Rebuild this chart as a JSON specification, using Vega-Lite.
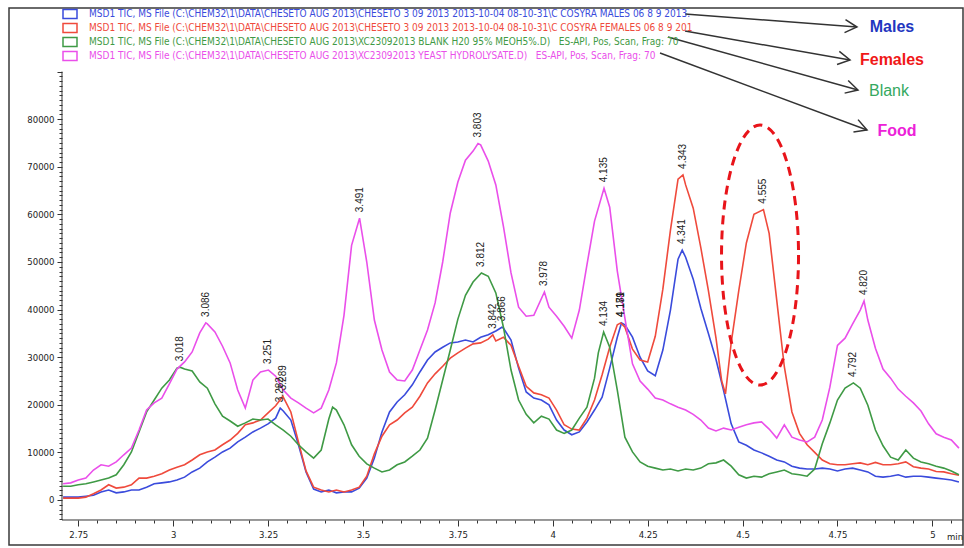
{
 "$schema": "https://vega.github.io/schema/vega-lite/v6.json",
 "width": 954, "height": 537,
 "autosize": {"type": "none"},
 "padding": {"left": 9, "top": 8, "right": 1, "bottom": 3},
 "background": "white",
 "config": {"view": {"stroke": "#3a3a3a", "strokeWidth": 1.5}, "font": "Liberation Sans"},
 "encoding": {
  "x": {"field": "t", "type": "quantitative",
   "scale": {"domain": [2.5675, 5.0807], "nice": false, "zero": false},
   "axis": {"orient": "bottom", "offset": -25, "domain": false, "grid": false, "title": null,
    "values": [2.75,2.8,2.85,2.9,2.95,3,3.05,3.1,3.15,3.2,3.25,3.3,3.35,3.4,3.45,3.5,3.55,3.6,3.65,3.7,3.75,3.8,3.85,3.9,3.95,4,4.05,4.1,4.15,4.2,4.25,4.3,4.35,4.4,4.45,4.5,4.55,4.6,4.65,4.7,4.75,4.8,4.85,4.9,4.95,5,5.05],
    "tickSize": {"condition": {"test": "abs(datum.value*4-round(datum.value*4))<0.001", "value": 6}, "value": 3},
    "tickColor": "#333", "tickWidth": 1,
    "labelExpr": "abs(datum.value*4-round(datum.value*4))<0.001 ? format(datum.value,'~g') : ''",
    "labelOverlap": false, "labelFlush": false, "labelPadding": 3,
    "labelFont": "DejaVu Sans Condensed, sans-serif", "labelFontSize": 9.5, "labelColor": "#222"}},
  "y": {"field": "v", "type": "quantitative",
   "scale": {"domain": [-9454, 103360], "nice": false, "zero": false},
   "axis": {"orient": "left", "offset": -53, "domain": false, "grid": false, "title": null,
    "values": [-4000,-3000,-2000,-1000,0,1000,2000,3000,4000,5000,6000,7000,8000,9000,10000,11000,12000,13000,14000,15000,16000,17000,18000,19000,20000,21000,22000,23000,24000,25000,26000,27000,28000,29000,30000,31000,32000,33000,34000,35000,36000,37000,38000,39000,40000,41000,42000,43000,44000,45000,46000,47000,48000,49000,50000,51000,52000,53000,54000,55000,56000,57000,58000,59000,60000,61000,62000,63000,64000,65000,66000,67000,68000,69000,70000,71000,72000,73000,74000,75000,76000,77000,78000,79000,80000,81000,82000,83000,84000,85000,86000,87000,88000,89000,90000],
    "tickSize": {"condition": {"test": "datum.value % 10000 === 0", "value": 5}, "value": 3},
    "tickColor": "#333", "tickWidth": 1,
    "labelExpr": "(datum.value % 10000 === 0 && datum.value >= 0 && datum.value <= 80000) ? format(datum.value,'d') : ''",
    "labelOverlap": false, "labelPadding": 3,
    "labelFont": "DejaVu Sans Condensed, sans-serif", "labelFontSize": 9.5, "labelColor": "#222"}}
 },
 "layer": [
  {
   "data": {"values": [
{"s":"M","t":2.71,"v":600},{"s":"M","t":2.73,"v":600},{"s":"M","t":2.75,"v":600},{"s":"M","t":2.77,"v":800},{"s":"M","t":2.79,"v":1000},{"s":"M","t":2.81,"v":1700},{"s":"M","t":2.83,"v":2100},{"s":"M","t":2.85,"v":1500},{"s":"M","t":2.87,"v":1700},{"s":"M","t":2.89,"v":2100},{"s":"M","t":2.91,"v":2100},{"s":"M","t":2.93,"v":2700},{"s":"M","t":2.95,"v":3400},{"s":"M","t":2.97,"v":3600},{"s":"M","t":2.99,"v":3800},{"s":"M","t":3.01,"v":4200},{"s":"M","t":3.03,"v":4800},{"s":"M","t":3.05,"v":5900},{"s":"M","t":3.07,"v":6700},{"s":"M","t":3.09,"v":8000},{"s":"M","t":3.11,"v":9000},{"s":"M","t":3.13,"v":10100},{"s":"M","t":3.15,"v":10900},{"s":"M","t":3.17,"v":12200},{"s":"M","t":3.19,"v":13200},{"s":"M","t":3.21,"v":14300},{"s":"M","t":3.23,"v":15100},{"s":"M","t":3.25,"v":16000},{"s":"M","t":3.27,"v":17200},{"s":"M","t":3.282,"v":19300},{"s":"M","t":3.29,"v":18700},{"s":"M","t":3.31,"v":16800},{"s":"M","t":3.33,"v":11600},{"s":"M","t":3.35,"v":5900},{"s":"M","t":3.37,"v":2300},{"s":"M","t":3.39,"v":1700},{"s":"M","t":3.41,"v":2100},{"s":"M","t":3.43,"v":1500},{"s":"M","t":3.45,"v":1700},{"s":"M","t":3.47,"v":1700},{"s":"M","t":3.49,"v":2500},{"s":"M","t":3.51,"v":4600},{"s":"M","t":3.53,"v":8800},{"s":"M","t":3.55,"v":14300},{"s":"M","t":3.57,"v":18500},{"s":"M","t":3.59,"v":20600},{"s":"M","t":3.61,"v":22100},{"s":"M","t":3.63,"v":24200},{"s":"M","t":3.65,"v":26900},{"s":"M","t":3.67,"v":29400},{"s":"M","t":3.69,"v":31100},{"s":"M","t":3.71,"v":32100},{"s":"M","t":3.73,"v":33000},{"s":"M","t":3.75,"v":33200},{"s":"M","t":3.77,"v":33600},{"s":"M","t":3.79,"v":33200},{"s":"M","t":3.81,"v":34200},{"s":"M","t":3.83,"v":34700},{"s":"M","t":3.85,"v":35500},{"s":"M","t":3.866,"v":36300},{"s":"M","t":3.87,"v":36100},{"s":"M","t":3.89,"v":33600},{"s":"M","t":3.91,"v":27700},{"s":"M","t":3.93,"v":22700},{"s":"M","t":3.95,"v":21400},{"s":"M","t":3.97,"v":21000},{"s":"M","t":3.99,"v":20000},{"s":"M","t":4.01,"v":16800},{"s":"M","t":4.03,"v":14700},{"s":"M","t":4.05,"v":13700},{"s":"M","t":4.07,"v":14300},{"s":"M","t":4.09,"v":16400},{"s":"M","t":4.11,"v":18900},{"s":"M","t":4.13,"v":21600},{"s":"M","t":4.15,"v":27700},{"s":"M","t":4.17,"v":34200},{"s":"M","t":4.181,"v":37200},{"s":"M","t":4.19,"v":36800},{"s":"M","t":4.21,"v":34200},{"s":"M","t":4.23,"v":30000},{"s":"M","t":4.25,"v":27100},{"s":"M","t":4.27,"v":26100},{"s":"M","t":4.29,"v":31500},{"s":"M","t":4.31,"v":39900},{"s":"M","t":4.33,"v":50600},{"s":"M","t":4.341,"v":52500},{"s":"M","t":4.35,"v":51000},{"s":"M","t":4.37,"v":46400},{"s":"M","t":4.39,"v":40300},{"s":"M","t":4.41,"v":35000},{"s":"M","t":4.43,"v":29500},{"s":"M","t":4.45,"v":23000},{"s":"M","t":4.47,"v":16000},{"s":"M","t":4.49,"v":12200},{"s":"M","t":4.51,"v":11500},{"s":"M","t":4.53,"v":10500},{"s":"M","t":4.55,"v":9900},{"s":"M","t":4.57,"v":9200},{"s":"M","t":4.59,"v":8400},{"s":"M","t":4.61,"v":8000},{"s":"M","t":4.63,"v":7100},{"s":"M","t":4.65,"v":6700},{"s":"M","t":4.67,"v":6500},{"s":"M","t":4.69,"v":6500},{"s":"M","t":4.71,"v":6700},{"s":"M","t":4.73,"v":6500},{"s":"M","t":4.75,"v":6100},{"s":"M","t":4.77,"v":6500},{"s":"M","t":4.79,"v":6700},{"s":"M","t":4.81,"v":6300},{"s":"M","t":4.83,"v":5900},{"s":"M","t":4.85,"v":5000},{"s":"M","t":4.87,"v":4800},{"s":"M","t":4.89,"v":5000},{"s":"M","t":4.91,"v":5300},{"s":"M","t":4.93,"v":4800},{"s":"M","t":4.95,"v":5000},{"s":"M","t":4.97,"v":5000},{"s":"M","t":4.99,"v":4800},{"s":"M","t":5.01,"v":4600},{"s":"M","t":5.03,"v":4400},{"s":"M","t":5.05,"v":4200},{"s":"M","t":5.07,"v":3800},
{"s":"F","t":2.71,"v":400},{"s":"F","t":2.73,"v":400},{"s":"F","t":2.75,"v":400},{"s":"F","t":2.77,"v":600},{"s":"F","t":2.79,"v":1300},{"s":"F","t":2.81,"v":2100},{"s":"F","t":2.83,"v":3200},{"s":"F","t":2.85,"v":2500},{"s":"F","t":2.87,"v":2700},{"s":"F","t":2.89,"v":3200},{"s":"F","t":2.91,"v":4600},{"s":"F","t":2.93,"v":4600},{"s":"F","t":2.95,"v":5000},{"s":"F","t":2.97,"v":5500},{"s":"F","t":2.99,"v":6300},{"s":"F","t":3.01,"v":6900},{"s":"F","t":3.03,"v":7400},{"s":"F","t":3.05,"v":8400},{"s":"F","t":3.07,"v":9500},{"s":"F","t":3.09,"v":10100},{"s":"F","t":3.11,"v":10500},{"s":"F","t":3.13,"v":11600},{"s":"F","t":3.15,"v":12600},{"s":"F","t":3.17,"v":14000},{"s":"F","t":3.19,"v":15800},{"s":"F","t":3.21,"v":16200},{"s":"F","t":3.23,"v":16800},{"s":"F","t":3.25,"v":18300},{"s":"F","t":3.27,"v":19800},{"s":"F","t":3.289,"v":21800},{"s":"F","t":3.29,"v":21600},{"s":"F","t":3.31,"v":18500},{"s":"F","t":3.33,"v":12200},{"s":"F","t":3.35,"v":6100},{"s":"F","t":3.37,"v":2700},{"s":"F","t":3.39,"v":2100},{"s":"F","t":3.41,"v":1700},{"s":"F","t":3.43,"v":2100},{"s":"F","t":3.45,"v":1700},{"s":"F","t":3.47,"v":2100},{"s":"F","t":3.49,"v":2700},{"s":"F","t":3.51,"v":5000},{"s":"F","t":3.53,"v":9700},{"s":"F","t":3.55,"v":13400},{"s":"F","t":3.57,"v":15800},{"s":"F","t":3.59,"v":16800},{"s":"F","t":3.61,"v":18300},{"s":"F","t":3.63,"v":19500},{"s":"F","t":3.65,"v":21800},{"s":"F","t":3.67,"v":24600},{"s":"F","t":3.69,"v":26500},{"s":"F","t":3.71,"v":28100},{"s":"F","t":3.73,"v":29800},{"s":"F","t":3.75,"v":30900},{"s":"F","t":3.77,"v":31900},{"s":"F","t":3.79,"v":32800},{"s":"F","t":3.81,"v":33000},{"s":"F","t":3.83,"v":33800},{"s":"F","t":3.842,"v":34700},{"s":"F","t":3.85,"v":33400},{"s":"F","t":3.87,"v":34200},{"s":"F","t":3.89,"v":32500},{"s":"F","t":3.91,"v":28100},{"s":"F","t":3.93,"v":23900},{"s":"F","t":3.95,"v":22500},{"s":"F","t":3.97,"v":22100},{"s":"F","t":3.99,"v":21400},{"s":"F","t":4.01,"v":18900},{"s":"F","t":4.03,"v":15800},{"s":"F","t":4.05,"v":14900},{"s":"F","t":4.07,"v":14700},{"s":"F","t":4.09,"v":17200},{"s":"F","t":4.11,"v":21000},{"s":"F","t":4.13,"v":26300},{"s":"F","t":4.15,"v":32100},{"s":"F","t":4.17,"v":36800},{"s":"F","t":4.179,"v":37200},{"s":"F","t":4.19,"v":36300},{"s":"F","t":4.21,"v":31700},{"s":"F","t":4.23,"v":29400},{"s":"F","t":4.25,"v":29000},{"s":"F","t":4.27,"v":34400},{"s":"F","t":4.29,"v":44300},{"s":"F","t":4.31,"v":56700},{"s":"F","t":4.33,"v":67400},{"s":"F","t":4.343,"v":68300},{"s":"F","t":4.35,"v":66200},{"s":"F","t":4.37,"v":61300},{"s":"F","t":4.39,"v":53000},{"s":"F","t":4.41,"v":44000},{"s":"F","t":4.43,"v":34000},{"s":"F","t":4.445,"v":25000},{"s":"F","t":4.455,"v":22300},{"s":"F","t":4.47,"v":33000},{"s":"F","t":4.49,"v":44000},{"s":"F","t":4.51,"v":54000},{"s":"F","t":4.53,"v":60000},{"s":"F","t":4.555,"v":61000},{"s":"F","t":4.57,"v":56000},{"s":"F","t":4.59,"v":42000},{"s":"F","t":4.61,"v":28000},{"s":"F","t":4.63,"v":18500},{"s":"F","t":4.65,"v":14000},{"s":"F","t":4.67,"v":11600},{"s":"F","t":4.69,"v":10000},{"s":"F","t":4.71,"v":8400},{"s":"F","t":4.73,"v":7600},{"s":"F","t":4.75,"v":7400},{"s":"F","t":4.77,"v":7400},{"s":"F","t":4.79,"v":7600},{"s":"F","t":4.81,"v":7800},{"s":"F","t":4.83,"v":7400},{"s":"F","t":4.85,"v":7900},{"s":"F","t":4.87,"v":7400},{"s":"F","t":4.89,"v":7400},{"s":"F","t":4.91,"v":7600},{"s":"F","t":4.93,"v":8000},{"s":"F","t":4.95,"v":7000},{"s":"F","t":4.97,"v":6700},{"s":"F","t":4.99,"v":6500},{"s":"F","t":5.01,"v":6000},{"s":"F","t":5.03,"v":5900},{"s":"F","t":5.05,"v":5500},{"s":"F","t":5.07,"v":5200},
{"s":"B","t":2.71,"v":2900},{"s":"B","t":2.73,"v":2900},{"s":"B","t":2.75,"v":3200},{"s":"B","t":2.77,"v":3400},{"s":"B","t":2.79,"v":3800},{"s":"B","t":2.81,"v":4200},{"s":"B","t":2.83,"v":4600},{"s":"B","t":2.85,"v":5300},{"s":"B","t":2.87,"v":7400},{"s":"B","t":2.89,"v":10100},{"s":"B","t":2.91,"v":14300},{"s":"B","t":2.93,"v":18500},{"s":"B","t":2.95,"v":21000},{"s":"B","t":2.97,"v":23500},{"s":"B","t":2.99,"v":25200},{"s":"B","t":3.01,"v":27700},{"s":"B","t":3.018,"v":27900},{"s":"B","t":3.03,"v":27500},{"s":"B","t":3.05,"v":27100},{"s":"B","t":3.07,"v":24800},{"s":"B","t":3.09,"v":23500},{"s":"B","t":3.11,"v":20200},{"s":"B","t":3.13,"v":17600},{"s":"B","t":3.15,"v":16600},{"s":"B","t":3.17,"v":15500},{"s":"B","t":3.19,"v":16200},{"s":"B","t":3.21,"v":17000},{"s":"B","t":3.23,"v":16800},{"s":"B","t":3.25,"v":17000},{"s":"B","t":3.27,"v":15800},{"s":"B","t":3.29,"v":14700},{"s":"B","t":3.31,"v":13400},{"s":"B","t":3.33,"v":11600},{"s":"B","t":3.35,"v":10100},{"s":"B","t":3.37,"v":8800},{"s":"B","t":3.39,"v":10500},{"s":"B","t":3.41,"v":17000},{"s":"B","t":3.42,"v":19500},{"s":"B","t":3.43,"v":18900},{"s":"B","t":3.45,"v":15800},{"s":"B","t":3.47,"v":11600},{"s":"B","t":3.49,"v":9200},{"s":"B","t":3.51,"v":7600},{"s":"B","t":3.53,"v":6700},{"s":"B","t":3.55,"v":5900},{"s":"B","t":3.57,"v":6300},{"s":"B","t":3.59,"v":7400},{"s":"B","t":3.61,"v":8000},{"s":"B","t":3.63,"v":9200},{"s":"B","t":3.65,"v":10500},{"s":"B","t":3.67,"v":13000},{"s":"B","t":3.69,"v":18900},{"s":"B","t":3.71,"v":25200},{"s":"B","t":3.73,"v":31500},{"s":"B","t":3.75,"v":38000},{"s":"B","t":3.77,"v":43000},{"s":"B","t":3.79,"v":45800},{"s":"B","t":3.812,"v":47700},{"s":"B","t":3.83,"v":47000},{"s":"B","t":3.85,"v":43500},{"s":"B","t":3.87,"v":36300},{"s":"B","t":3.89,"v":27300},{"s":"B","t":3.91,"v":21000},{"s":"B","t":3.93,"v":18000},{"s":"B","t":3.95,"v":16200},{"s":"B","t":3.97,"v":17600},{"s":"B","t":3.99,"v":17000},{"s":"B","t":4.01,"v":14700},{"s":"B","t":4.03,"v":14000},{"s":"B","t":4.05,"v":14700},{"s":"B","t":4.07,"v":17200},{"s":"B","t":4.09,"v":19500},{"s":"B","t":4.11,"v":25600},{"s":"B","t":4.12,"v":30900},{"s":"B","t":4.134,"v":35300},{"s":"B","t":4.15,"v":32100},{"s":"B","t":4.17,"v":23100},{"s":"B","t":4.19,"v":13200},{"s":"B","t":4.21,"v":10100},{"s":"B","t":4.23,"v":8000},{"s":"B","t":4.25,"v":7100},{"s":"B","t":4.27,"v":6700},{"s":"B","t":4.29,"v":6300},{"s":"B","t":4.31,"v":6500},{"s":"B","t":4.33,"v":6100},{"s":"B","t":4.35,"v":6500},{"s":"B","t":4.37,"v":6300},{"s":"B","t":4.39,"v":6700},{"s":"B","t":4.41,"v":7600},{"s":"B","t":4.43,"v":7800},{"s":"B","t":4.45,"v":8400},{"s":"B","t":4.47,"v":7100},{"s":"B","t":4.49,"v":5300},{"s":"B","t":4.51,"v":4600},{"s":"B","t":4.53,"v":5000},{"s":"B","t":4.55,"v":4800},{"s":"B","t":4.57,"v":5500},{"s":"B","t":4.59,"v":5900},{"s":"B","t":4.61,"v":6300},{"s":"B","t":4.63,"v":5500},{"s":"B","t":4.65,"v":5300},{"s":"B","t":4.67,"v":5000},{"s":"B","t":4.69,"v":6500},{"s":"B","t":4.71,"v":11800},{"s":"B","t":4.73,"v":16200},{"s":"B","t":4.75,"v":21000},{"s":"B","t":4.77,"v":23500},{"s":"B","t":4.792,"v":24600},{"s":"B","t":4.81,"v":23500},{"s":"B","t":4.83,"v":19900},{"s":"B","t":4.85,"v":14700},{"s":"B","t":4.87,"v":11400},{"s":"B","t":4.89,"v":9000},{"s":"B","t":4.91,"v":8400},{"s":"B","t":4.93,"v":10500},{"s":"B","t":4.95,"v":8800},{"s":"B","t":4.97,"v":8000},{"s":"B","t":4.99,"v":7600},{"s":"B","t":5.01,"v":7100},{"s":"B","t":5.03,"v":6700},{"s":"B","t":5.05,"v":6100},{"s":"B","t":5.07,"v":5300},
{"s":"Y","t":2.71,"v":3400},{"s":"Y","t":2.73,"v":3600},{"s":"Y","t":2.75,"v":4200},{"s":"Y","t":2.77,"v":4600},{"s":"Y","t":2.79,"v":6300},{"s":"Y","t":2.81,"v":7400},{"s":"Y","t":2.83,"v":7100},{"s":"Y","t":2.85,"v":8000},{"s":"Y","t":2.87,"v":9500},{"s":"Y","t":2.89,"v":10900},{"s":"Y","t":2.91,"v":14700},{"s":"Y","t":2.93,"v":18900},{"s":"Y","t":2.95,"v":20400},{"s":"Y","t":2.97,"v":21400},{"s":"Y","t":2.99,"v":24400},{"s":"Y","t":3.01,"v":27500},{"s":"Y","t":3.03,"v":29000},{"s":"Y","t":3.05,"v":31100},{"s":"Y","t":3.07,"v":35100},{"s":"Y","t":3.086,"v":37200},{"s":"Y","t":3.09,"v":37000},{"s":"Y","t":3.11,"v":35300},{"s":"Y","t":3.13,"v":32300},{"s":"Y","t":3.15,"v":28800},{"s":"Y","t":3.17,"v":23100},{"s":"Y","t":3.19,"v":19300},{"s":"Y","t":3.21,"v":25200},{"s":"Y","t":3.23,"v":26900},{"s":"Y","t":3.251,"v":27300},{"s":"Y","t":3.27,"v":26000},{"s":"Y","t":3.29,"v":23100},{"s":"Y","t":3.31,"v":21400},{"s":"Y","t":3.33,"v":20400},{"s":"Y","t":3.35,"v":19300},{"s":"Y","t":3.37,"v":18300},{"s":"Y","t":3.39,"v":19300},{"s":"Y","t":3.41,"v":23100},{"s":"Y","t":3.43,"v":28800},{"s":"Y","t":3.45,"v":38800},{"s":"Y","t":3.47,"v":53500},{"s":"Y","t":3.491,"v":59200},{"s":"Y","t":3.51,"v":50000},{"s":"Y","t":3.53,"v":37800},{"s":"Y","t":3.55,"v":31500},{"s":"Y","t":3.57,"v":26900},{"s":"Y","t":3.59,"v":25200},{"s":"Y","t":3.61,"v":25000},{"s":"Y","t":3.63,"v":27300},{"s":"Y","t":3.65,"v":31500},{"s":"Y","t":3.67,"v":35700},{"s":"Y","t":3.69,"v":41400},{"s":"Y","t":3.71,"v":50000},{"s":"Y","t":3.73,"v":60300},{"s":"Y","t":3.75,"v":66800},{"s":"Y","t":3.77,"v":71400},{"s":"Y","t":3.79,"v":73300},{"s":"Y","t":3.803,"v":74900},{"s":"Y","t":3.81,"v":74600},{"s":"Y","t":3.83,"v":71200},{"s":"Y","t":3.85,"v":66200},{"s":"Y","t":3.87,"v":57500},{"s":"Y","t":3.89,"v":47700},{"s":"Y","t":3.91,"v":40500},{"s":"Y","t":3.93,"v":38600},{"s":"Y","t":3.95,"v":38800},{"s":"Y","t":3.978,"v":43700},{"s":"Y","t":3.99,"v":40500},{"s":"Y","t":4.01,"v":38600},{"s":"Y","t":4.03,"v":36500},{"s":"Y","t":4.05,"v":34000},{"s":"Y","t":4.07,"v":39900},{"s":"Y","t":4.09,"v":49400},{"s":"Y","t":4.11,"v":58600},{"s":"Y","t":4.135,"v":65500},{"s":"Y","t":4.15,"v":61500},{"s":"Y","t":4.17,"v":48100},{"s":"Y","t":4.19,"v":38200},{"s":"Y","t":4.21,"v":28600},{"s":"Y","t":4.23,"v":25000},{"s":"Y","t":4.25,"v":23300},{"s":"Y","t":4.27,"v":21400},{"s":"Y","t":4.29,"v":21000},{"s":"Y","t":4.31,"v":20200},{"s":"Y","t":4.33,"v":19500},{"s":"Y","t":4.35,"v":18900},{"s":"Y","t":4.37,"v":18000},{"s":"Y","t":4.39,"v":16800},{"s":"Y","t":4.41,"v":15100},{"s":"Y","t":4.43,"v":14500},{"s":"Y","t":4.45,"v":15100},{"s":"Y","t":4.47,"v":14700},{"s":"Y","t":4.49,"v":15300},{"s":"Y","t":4.51,"v":15800},{"s":"Y","t":4.53,"v":16200},{"s":"Y","t":4.55,"v":16400},{"s":"Y","t":4.57,"v":14900},{"s":"Y","t":4.59,"v":13000},{"s":"Y","t":4.61,"v":15800},{"s":"Y","t":4.63,"v":13200},{"s":"Y","t":4.65,"v":12600},{"s":"Y","t":4.67,"v":12200},{"s":"Y","t":4.69,"v":13200},{"s":"Y","t":4.71,"v":16800},{"s":"Y","t":4.73,"v":23700},{"s":"Y","t":4.75,"v":32500},{"s":"Y","t":4.77,"v":34000},{"s":"Y","t":4.79,"v":37000},{"s":"Y","t":4.81,"v":39900},{"s":"Y","t":4.82,"v":41800},{"s":"Y","t":4.83,"v":37800},{"s":"Y","t":4.85,"v":31900},{"s":"Y","t":4.87,"v":27500},{"s":"Y","t":4.89,"v":25600},{"s":"Y","t":4.91,"v":23300},{"s":"Y","t":4.93,"v":21800},{"s":"Y","t":4.95,"v":20400},{"s":"Y","t":4.97,"v":18700},{"s":"Y","t":4.99,"v":16000},{"s":"Y","t":5.01,"v":13900},{"s":"Y","t":5.03,"v":13200},{"s":"Y","t":5.05,"v":12600},{"s":"Y","t":5.07,"v":10900}
   ]},
   "transform": [
    {"lookup": "s", "from": {"data": {"values": [
      {"s": "M", "name": "MSD1 TIC, MS File (C:\\CHEM32\\1\\DATA\\CHESETO AUG 2013\\CHESETO 3 09 2013 2013-10-04 08-10-31\\C COSYRA MALES 06 8 9 2013."},
      {"s": "F", "name": "MSD1 TIC, MS File (C:\\CHEM32\\1\\DATA\\CHESETO AUG 2013\\CHESETO 3 09 2013 2013-10-04 08-10-31\\C COSYRA FEMALES 06 8 9 201"},
      {"s": "B", "name": "MSD1 TIC, MS File (C:\\CHEM32\\1\\DATA\\CHESETO AUG 2013\\XC23092013 BLANK H20 95% MEOH5%.D)\u00a0\u00a0\u00a0ES-API, Pos, Scan, Frag: 70"},
      {"s": "Y", "name": "MSD1 TIC, MS File (C:\\CHEM32\\1\\DATA\\CHESETO AUG 2013\\XC23092013 YEAST HYDROLYSATE.D)\u00a0\u00a0\u00a0ES-API, Pos, Scan, Frag: 70"}
    ]}, "key": "s", "fields": ["name"]}}
   ],
   "mark": {"type": "line", "strokeWidth": 1.6, "interpolate": "linear"},
   "encoding": {
    "color": {"field": "name", "type": "nominal",
     "scale": {"domain": [
       "MSD1 TIC, MS File (C:\\CHEM32\\1\\DATA\\CHESETO AUG 2013\\CHESETO 3 09 2013 2013-10-04 08-10-31\\C COSYRA MALES 06 8 9 2013.",
       "MSD1 TIC, MS File (C:\\CHEM32\\1\\DATA\\CHESETO AUG 2013\\CHESETO 3 09 2013 2013-10-04 08-10-31\\C COSYRA FEMALES 06 8 9 201",
       "MSD1 TIC, MS File (C:\\CHEM32\\1\\DATA\\CHESETO AUG 2013\\XC23092013 BLANK H20 95% MEOH5%.D)\u00a0\u00a0\u00a0ES-API, Pos, Scan, Frag: 70",
       "MSD1 TIC, MS File (C:\\CHEM32\\1\\DATA\\CHESETO AUG 2013\\XC23092013 YEAST HYDROLYSATE.D)\u00a0\u00a0\u00a0ES-API, Pos, Scan, Frag: 70"],
      "range": ["#3a4bdc", "#ef4a3c", "#3f9a45", "#ea4fea"]},
     "legend": {"orient": "none", "legendX": 55, "legendY": 0, "title": null,
      "symbolType": "M-1.4,-0.9L1.4,-0.9L1.4,0.9L-1.4,0.9Z", "symbolSize": 100, "symbolStrokeWidth": 1.5,
      "labelFont": "DejaVu Sans Condensed, sans-serif", "labelFontSize": 10, "labelLimit": 1000,
      "rowPadding": -2.7, "labelOffset": 13, "padding": 0,
      "encode": {"labels": {"update": {"fill": {"scale": "color", "field": "value"}}}}}}
   }
  },
  {
   "data": {"values": [
    {"t":3.018,"v":27900},{"t":3.086,"v":37200},{"t":3.251,"v":27300},{"t":3.282,"v":19300},{"t":3.289,"v":21800},{"t":3.491,"v":59200},{"t":3.803,"v":74900},{"t":3.812,"v":47700},{"t":3.842,"v":34700},{"t":3.866,"v":36300},{"t":3.978,"v":43700},{"t":4.134,"v":35300},{"t":4.135,"v":65500},{"t":4.179,"v":37200},{"t":4.181,"v":37200},{"t":4.341,"v":52500},{"t":4.343,"v":68300},{"t":4.555,"v":61000},{"t":4.792,"v":24600},{"t":4.82,"v":41800}
   ]},
   "mark": {"type": "text", "angle": 270, "align": "left", "baseline": "middle", "dx": 6, "fontSize": 10, "font": "Liberation Sans", "color": "#222"},
   "encoding": {"text": {"field": "t", "type": "quantitative", "format": ".3f"}}
  },
  {
   "data": {"values": [{"t": 4.546, "v": 51450}]},
   "mark": {"type": "point", "shape": "M0.77,0C0.77,1.436,0.425,2.6,0,2.6C-0.425,2.6,-0.77,1.436,-0.77,0C-0.77,-1.436,-0.425,-2.6,0,-2.6C0.425,-2.6,0.77,-1.436,0.77,0Z",
    "filled": false, "size": 10000, "color": "#e8141a", "strokeWidth": 3, "strokeDash": [9, 6], "opacity": 1}
  },
  {
   "data": {"values": [
    {"t": 4.3483, "v": 102099, "t2": 4.8014, "v2": 99368},
    {"t": 4.3483, "v": 98528, "t2": 4.7830, "v2": 92435},
    {"t": 4.3035, "v": 97267, "t2": 4.8040, "v2": 86133},
    {"t": 4.2825, "v": 93906, "t2": 4.8278, "v2": 77730}
   ]},
   "mark": {"type": "rule", "color": "#333", "strokeWidth": 1.5},
   "encoding": {"x2": {"field": "t2"}, "y2": {"field": "v2"}}
  },
  {
   "data": {"values": [
    {"t": 4.8014, "v": 99368, "a": 4.3},
    {"t": 4.7830, "v": 92435, "a": 10.0},
    {"t": 4.8040, "v": 86133, "a": 15.6},
    {"t": 4.8278, "v": 77730, "a": 20.4}
   ]},
   "mark": {"type": "point", "shape": "M-2,-1.1L0,0L-2,1.1", "filled": false, "size": 144, "color": "#333", "strokeWidth": 1.5, "opacity": 1},
   "encoding": {"angle": {"field": "a", "type": "quantitative", "scale": null}}
  },
  {"data": {"values": [{"t": 4.8936, "v": 99368, "txt": "Males"}]},
   "mark": {"type": "text", "font": "Liberation Sans", "fontSize": 16, "fontWeight": "bold", "color": "#2236c0", "align": "center", "baseline": "middle"},
   "encoding": {"text": {"field": "txt"}}},
  {"data": {"values": [{"t": 4.8936, "v": 92435, "txt": "Females"}]},
   "mark": {"type": "text", "font": "Liberation Sans", "fontSize": 16, "fontWeight": "bold", "color": "#f01818", "align": "center", "baseline": "middle"},
   "encoding": {"text": {"field": "txt"}}},
  {"data": {"values": [{"t": 4.8857, "v": 85923, "txt": "Blank"}]},
   "mark": {"type": "text", "font": "Liberation Sans", "fontSize": 16, "fontWeight": "normal", "color": "#34a860", "align": "center", "baseline": "middle"},
   "encoding": {"text": {"field": "txt"}}},
  {"data": {"values": [{"t": 4.9068, "v": 77520, "txt": "Food"}]},
   "mark": {"type": "text", "font": "Liberation Sans", "fontSize": 16, "fontWeight": "bold", "color": "#ec22d8", "align": "center", "baseline": "middle"},
   "encoding": {"text": {"field": "txt"}}},
  {"data": {"values": [{"t": 2.7071, "v": -4200, "t2": 2.7071, "v2": 90000}, {"t": 2.7071, "v": -4200, "t2": 5.0807, "v2": -4200}]},
   "mark": {"type": "rule", "color": "#333", "strokeWidth": 1},
   "encoding": {"x2": {"field": "t2"}, "y2": {"field": "v2"}}},
  {"data": {"values": [{"t": 5.0596, "v": -7770, "txt": "min"}]},
   "mark": {"type": "text", "font": "DejaVu Sans Condensed, sans-serif", "fontSize": 9.5, "color": "#222", "align": "center", "baseline": "middle"},
   "encoding": {"text": {"field": "txt"}}}
 ]
}
